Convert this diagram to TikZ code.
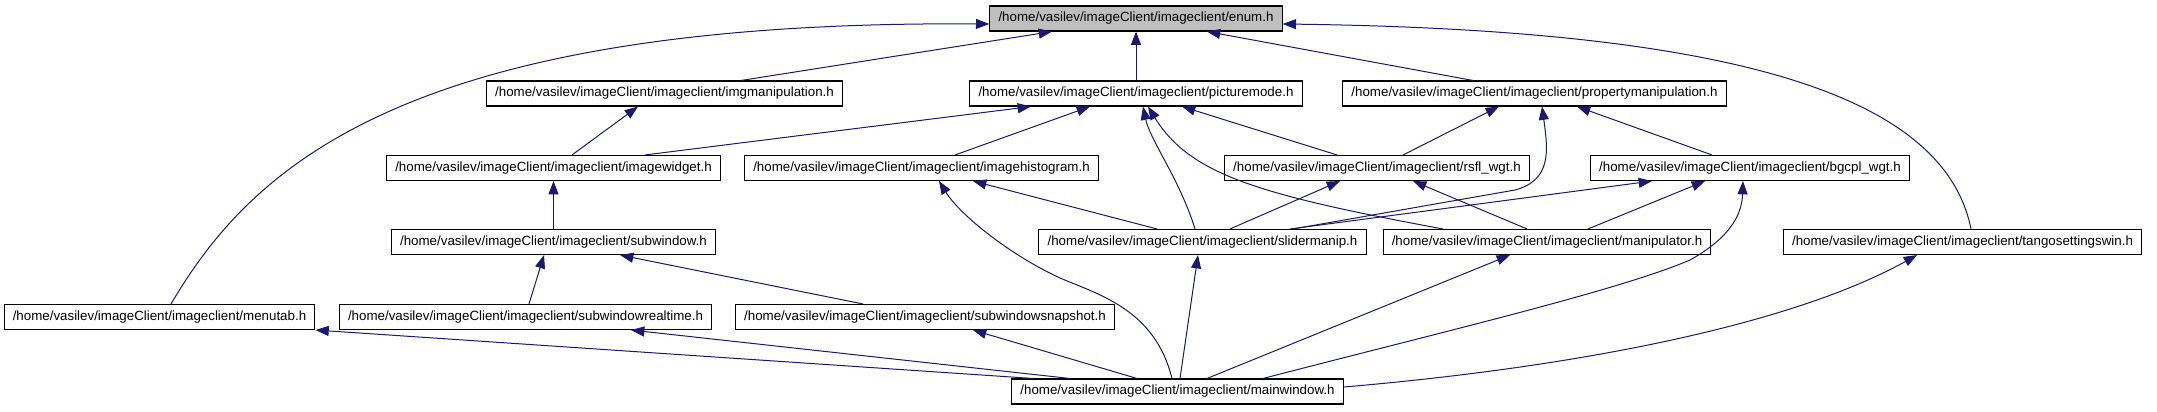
\documentclass[tikz,border=0pt]{standalone}
\usepackage{fontspec}
\setmainfont{Liberation Sans}
\usetikzlibrary{arrows.meta,calc}
\definecolor{edgeblue}{HTML}{191970}
\definecolor{rootgray}{HTML}{BFBFBF}
\tikzset{
  hdr/.style={draw=black, line width=0.8pt, fill=white, minimum height=18.75pt,
    inner xsep=6.5pt, inner ysep=0pt, font=\fontsize{10}{12}\selectfont},
  inc/.style={draw=edgeblue, line width=0.75pt, -{Triangle[length=10pt,width=7.5pt]}},
}
\begin{document}
\begin{tikzpicture}[x=0.75pt,y=-0.75pt]
  \useasboundingbox (0,0) rectangle (2157,411);
  % headers, row by row (pixel coordinates, y down)
  \node[hdr,fill=rootgray] (enum) at (1136,18.5) {/home/vasilev/imageClient/imageclient/enum.h};
  \node[hdr] (imgmanip) at (664.5,93.5) {/home/vasilev/imageClient/imageclient/imgmanipulation.h};
  \node[hdr] (picturemode) at (1136,93.5) {/home/vasilev/imageClient/imageclient/picturemode.h};
  \node[hdr] (propmanip) at (1534.5,93.5) {/home/vasilev/imageClient/imageclient/propertymanipulation.h};
  \node[hdr] (imagewidget) at (553.5,168) {/home/vasilev/imageClient/imageclient/imagewidget.h};
  \node[hdr] (imagehistogram) at (921.5,168) {/home/vasilev/imageClient/imageclient/imagehistogram.h};
  \node[hdr] (rsfl) at (1377,168) {/home/vasilev/imageClient/imageclient/rsfl\_wgt.h};
  \node[hdr] (bgcpl) at (1750,168) {/home/vasilev/imageClient/imageclient/bgcpl\_wgt.h};
  \node[hdr] (subwindow) at (553.5,242) {/home/vasilev/imageClient/imageclient/subwindow.h};
  \node[hdr] (slidermanip) at (1202.5,242) {/home/vasilev/imageClient/imageclient/slidermanip.h};
  \node[hdr] (manipulator) at (1547,242) {/home/vasilev/imageClient/imageclient/manipulator.h};
  \node[hdr] (tango) at (1962.5,242) {/home/vasilev/imageClient/imageclient/tangosettingswin.h};
  \node[hdr] (menutab) at (159.5,317) {/home/vasilev/imageClient/imageclient/menutab.h};
  \node[hdr] (swrealtime) at (525.5,317) {/home/vasilev/imageClient/imageclient/subwindowrealtime.h};
  \node[hdr] (swsnapshot) at (925,317) {/home/vasilev/imageClient/imageclient/subwindowsnapshot.h};
  \node[hdr] (mainwindow) at (1177.5,391.5) {/home/vasilev/imageClient/imageclient/mainwindow.h};

  % includes of enum.h
  \draw[inc] ($(menutab.north)+(11.5,0)$) .. controls (250,170) and (400,20) .. ($(enum.west)+(0,5.5)$);
  \draw[inc] ($(imgmanip.north)+(76.5,0)$) -- ($(enum.south)+(-84,0)$);
  \draw[inc] (picturemode.north) -- (enum.south);
  \draw[inc] ($(propmanip.north)+(-61.5,0)$) -- ($(enum.south)+(71,0)$);
  \draw[inc] ($(tango.north)+(8.5,0)$) .. controls (1945,100) and (1750,30) .. ($(enum.east)+(0,5.5)$);
  % includes of picturemode.h
  \draw[inc] ($(imagewidget.north)+(91.5,0)$) -- ($(picturemode.south)+(-105,0)$);
  \draw[inc] ($(imagehistogram.north)+(33.5,0)$) -- ($(picturemode.south)+(-46,0)$);
  \draw[inc] ($(slidermanip.north)+(-7.5,0)$) .. controls (1180,180) and (1150,140) .. ($(picturemode.south)+(7,0)$);
  \draw[inc] ($(manipulator.north)+(-104,0)$) .. controls (1260,195) and (1190,175) .. ($(picturemode.south)+(12,0)$);
  \draw[inc] ($(rsfl.north)+(-40,0)$) -- ($(picturemode.south)+(46,0)$);
  % imgmanipulation.h and propertymanipulation.h
  \draw[inc] ($(imagewidget.north)+(18.5,0)$) -- ($(imgmanip.south)+(-26.5,0)$);
  \draw[inc] ($(rsfl.north)+(26,0)$) -- ($(propmanip.south)+(-35.5,0)$);
  \draw[inc] ($(bgcpl.north)+(-38,0)$) -- ($(propmanip.south)+(42.5,0)$);
  \draw[inc] ($(slidermanip.north)+(90.5,0)$) -- (1515,190) .. controls (1552,180) and (1548,150) .. ($(propmanip.south)+(7.5,0)$);
  % third row
  \draw[inc] (subwindow.north) -- (imagewidget.south);
  \draw[inc] ($(slidermanip.north)+(-45.5,0)$) -- ($(imagehistogram.south)+(51.5,0)$);
  \draw[inc] ($(mainwindow.north)+(-5.5,0)$) .. controls (1155,310) and (1100,295) .. (1060,278)
    .. controls (1010,255) and (960,215) .. ($(imagehistogram.south)+(17.5,0)$);
  \draw[inc] ($(slidermanip.north)+(27.5,0)$) -- ($(rsfl.south)+(-37,0)$);
  \draw[inc] ($(manipulator.north)+(-20,0)$) -- ($(rsfl.south)+(36,0)$);
  \draw[inc] ($(slidermanip.north)+(87.5,0)$) -- ($(bgcpl.south)+(-98,0)$);
  \draw[inc] ($(manipulator.north)+(41,0)$) -- ($(bgcpl.south)+(-45,0)$);
  \draw[inc] ($(mainwindow.north)+(85.5,0)$) .. controls (1450,330) and (1620,290) .. (1690,260)
    .. controls (1735,235) and (1742,210) .. ($(bgcpl.south)+(-7,0)$);
  % subwindow.h
  \draw[inc] ($(swrealtime.north)+(3.5,0)$) -- ($(subwindow.south)+(-9.5,0)$);
  \draw[inc] ($(swsnapshot.north)+(-62,0)$) -- ($(subwindow.south)+(66.5,0)$);
  % mainwindow.h
  \draw[inc] ($(mainwindow.north)+(-144.5,0)$) -- (menutab.south east);
  \draw[inc] ($(mainwindow.north)+(-107.5,0)$) -- ($(swrealtime.south)+(105.5,0)$);
  \draw[inc] ($(mainwindow.north)+(-40.5,0)$) -- ($(swsnapshot.south)+(48,0)$);
  \draw[inc] ($(mainwindow.north)+(2.5,0)$) -- ($(slidermanip.south)+(-4.5,0)$);
  \draw[inc] ($(mainwindow.north)+(29.5,0)$) -- ($(manipulator.south)+(-37,0)$);
  \draw[inc] ($(mainwindow.east)+(0,-4.5)$) .. controls (1600,365) and (1800,320) .. ($(tango.south)+(-45.5,0)$);
\end{tikzpicture}
\end{document}
